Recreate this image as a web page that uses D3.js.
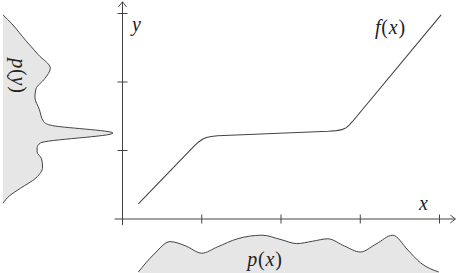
<!DOCTYPE html>
<html>
<head>
<meta charset="utf-8">
<script src="https://cdn.jsdelivr.net/npm/d3@7"></script>
<style>
  body { margin: 0; background: #fff; }
</style>
</head>
<body>
<script>
const width = 456;
const height = 273;

// f(x) knots (data units: x ticks = 1,2,3,4; y ticks = 1,2,3)
const fX = [0.2, 0.9, 0.96, 1.01, 1.06, 1.12, 1.2, 2.6, 2.7, 2.77, 2.82, 2.86, 2.9, 4.02];
const fY = [0.22, 1.06, 1.125, 1.165, 1.19, 1.205, 1.215, 1.28, 1.29, 1.305, 1.33, 1.37, 1.42, 2.98];

// p(x): density along x
const pxX = [0.2, 0.4, 0.6, 0.8, 1.0, 1.2, 1.45, 1.76, 2.0, 2.2, 2.4, 2.59, 2.8, 3.0, 3.2, 3.41, 3.6, 3.76, 3.99];
const pxV = [0.05, 0.5, 0.81, 0.7, 0.52, 0.68, 0.88, 0.97, 0.86, 0.76, 0.82, 0.88, 0.7, 0.55, 0.75, 0.97, 0.6, 0.28, 0.05];

// p(y): density along y
const pyY = [2.98, 2.85, 2.6, 2.4, 2.2, 2.05, 1.9, 1.78, 1.6, 1.42, 1.37, 1.255, 1.11, 1.04, 0.98, 0.88, 0.76, 0.6, 0.45, 0.34, 0.23];
const pyV = [0.0, 0.08, 0.21, 0.32, 0.43, 0.38, 0.3, 0.29, 0.33, 0.37, 0.43, 1.0, 0.34, 0.31, 0.31, 0.35, 0.36, 0.3, 0.16, 0.06, 0.0];

const xTicks = [1, 2, 3, 4];
const yTicks = [1, 2, 3];

const svg = d3.select('body')
  .append('svg')
  .attr('width', width)
  .attr('height', height)
  .attr('font-family', "'Liberation Serif', 'DejaVu Serif', serif");

const x = d3.scaleLinear().domain([0, 4]).range([122.5, 439.5]);
const y = d3.scaleLinear().domain([0, 3]).range([219, 13.5]);
const pxScale = d3.scaleLinear().domain([0, 1]).range([274, 234]);
const pyScale = d3.scaleLinear().domain([0, 1]).range([3, 113]);

const ink = '#444';

// p(y) on the left
const pyData = pyY.map((v, i) => ({ y: v, d: pyV[i] }));
svg.append('path')
  .datum(pyData)
  .attr('d', d3.area()
    .y(d => y(d.y))
    .x0(pyScale(0))
    .x1(d => pyScale(d.d))
    .curve(d3.curveMonotoneY))
  .style('fill', '#e6e6e6');
svg.append('path')
  .datum(pyData)
  .attr('d', d3.line()
    .y(d => y(d.y))
    .x(d => pyScale(d.d))
    .curve(d3.curveMonotoneY))
  .style('fill', 'none')
  .style('stroke', ink)
  .style('stroke-width', 1);

// p(x) at the bottom
const pxData = pxX.map((v, i) => ({ x: v, d: pxV[i] }));
svg.append('path')
  .datum(pxData)
  .attr('d', d3.area()
    .x(d => x(d.x))
    .y0(pxScale(0))
    .y1(d => pxScale(d.d))
    .curve(d3.curveMonotoneX))
  .style('fill', '#e6e6e6');
svg.append('path')
  .datum(pxData)
  .attr('d', d3.line()
    .x(d => x(d.x))
    .y(d => pxScale(d.d))
    .curve(d3.curveMonotoneX))
  .style('fill', 'none')
  .style('stroke', ink)
  .style('stroke-width', 1);

// axes
const axes = svg.append('g').style('stroke', ink).style('fill', 'none').style('stroke-width', 1);
axes.append('line')
  .attr('x1', x(-0.1)).attr('x2', x(4.2))
  .attr('y1', y(0)).attr('y2', y(0));
axes.append('line')
  .attr('x1', x(0)).attr('x2', x(0))
  .attr('y1', y(-0.09)).attr('y2', y(3.17));
// arrow heads
axes.append('path')
  .attr('d', `M${x(4.2) - 5},${y(0) - 4}L${x(4.2)},${y(0)}L${x(4.2) - 5},${y(0) + 4}`);
axes.append('path')
  .attr('d', `M${x(0) - 4},${y(3.17) + 5}L${x(0)},${y(3.17)}L${x(0) + 4},${y(3.17) + 5}`);

axes.selectAll('.xt')
  .data(xTicks)
  .enter()
  .append('line')
  .attr('x1', d => x(d)).attr('x2', d => x(d))
  .attr('y1', y(0) - 4.5).attr('y2', y(0) + 4.5);
axes.selectAll('.yt')
  .data(yTicks)
  .enter()
  .append('line')
  .attr('y1', d => y(d)).attr('y2', d => y(d))
  .attr('x1', x(0) - 5).attr('x2', x(0) + 5);

// f(x)
const fData = fX.map((v, i) => ({ x: v, y: fY[i] }));
svg.append('path')
  .datum(fData)
  .attr('d', d3.line()
    .x(d => x(d.x))
    .y(d => y(d.y)))
  .style('fill', 'none')
  .style('stroke', ink)
  .style('stroke-width', 1.1);

// labels
const label = (g, parts) => {
  parts.forEach(([t, it]) => {
    g.append('tspan').text(t).style('font-style', it ? 'italic' : 'normal');
  });
  g.style('fill', '#222').style('font-size', '20px').style('letter-spacing', '0.8px');
};

label(svg.append('text').attr('x', 132).attr('y', 31), [['y', true]]);
label(svg.append('text').attr('x', 419).attr('y', 210), [['x', true]]);
label(svg.append('text').attr('x', 375).attr('y', 34), [['f', true], ['(', false], ['x', true], [')', false]]);
label(svg.append('text').attr('x', 265).attr('y', 266).attr('text-anchor', 'middle'),
  [['p', true], ['(', false], ['x', true], [')', false]]);
label(svg.append('text').attr('transform', 'translate(12,76) rotate(90)').attr('text-anchor', 'middle'),
  [['p', true], ['(', false], ['y', true], [')', false]]);
</script>
</body>
</html>
